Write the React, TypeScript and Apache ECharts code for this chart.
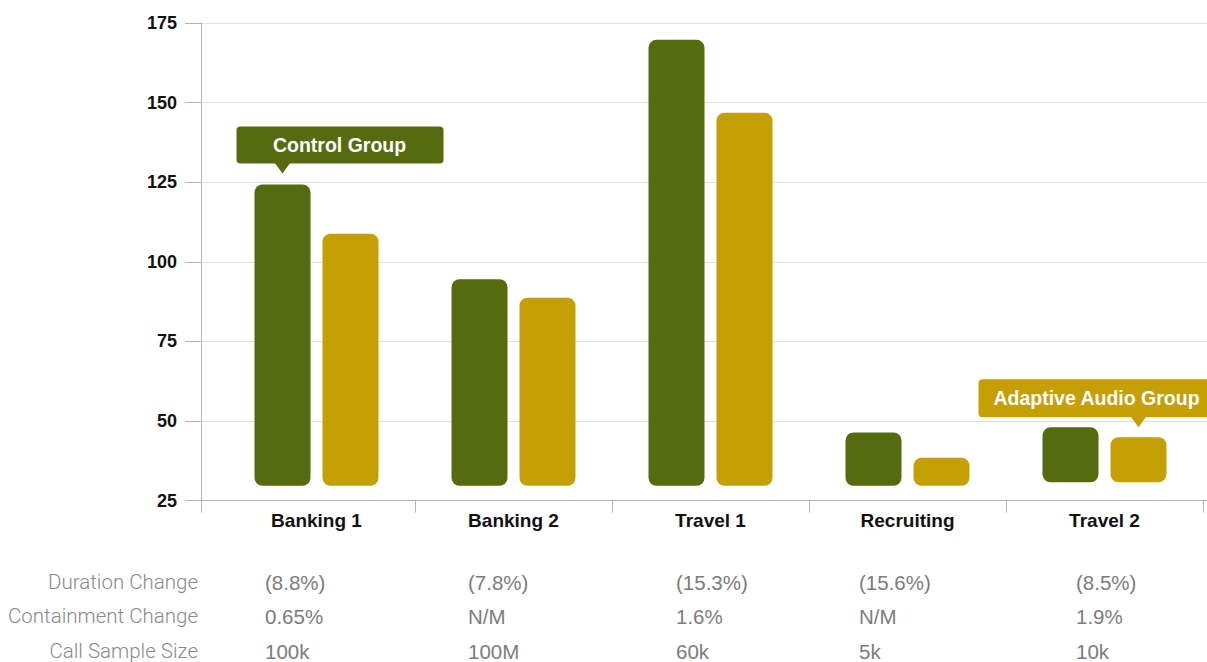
import { useEffect, useRef } from "react";
import * as echarts from "echarts";

// ---- data ----
const categories = ["Banking 1", "Banking 2", "Travel 1", "Recruiting", "Travel 2"];
const seriesNames = ["Control Group", "Adaptive Audio Group"];
const controlTop = [124.3, 94.5, 169.7, 46.4, 48.0];
const adaptiveTop = [108.8, 88.7, 146.8, 38.4, 44.9];
const barBase = [29.6, 29.6, 29.6, 29.6, 30.7];
const yMin = 25;
const yMax = 175;
const yStep = 25;
const rowLabels = ["Duration Change", "Containment Change", "Call Sample Size"];
const durationChange = ["(8.8%)", "(7.8%)", "(15.3%)", "(15.6%)", "(8.5%)"];
const containmentChange = ["0.65%", "N/M", "1.6%", "N/M", "1.9%"];
const callSampleSize = ["100k", "100M", "60k", "5k", "10k"];

// ---- layout / style ----
const GREEN = "#566b10";
const GOLD = "#c4a005";
const AXIS = "#b4b4b4";
const GRID = "#e0e0e0";
const tableColX = [265, 468, 676, 859, 1076];
const tableRowY = [582, 616, 651];
const rowLabelRight = 198;

export default function App() {
  const ref = useRef<HTMLDivElement>(null);

  useEffect(() => {
    if (!ref.current) return;
    const chart = echarts.init(ref.current, undefined, { renderer: "svg" });
    const gridBox = { top: 23, bottom: 161.5 };
    const barCommon = {
      type: "bar",
      xAxisIndex: 1,
      yAxisIndex: 1,
      barWidth: 56,
      barGap: "21.4%",
    };
    chart.setOption({
      animation: false,
      grid: [
        { left: 201, right: 0, ...gridBox },
        { left: 218, width: 985, ...gridBox },
      ],
      xAxis: [
        {
          type: "value",
          gridIndex: 0,
          min: 0,
          max: 1,
          interval: 1,
          axisLine: { show: true, lineStyle: { color: AXIS, width: 1 } },
          axisTick: { show: true, length: 12, lineStyle: { color: AXIS } },
          axisLabel: { show: false },
          splitLine: { show: false },
        },
        {
          type: "category",
          gridIndex: 1,
          data: categories,
          axisLine: { show: false },
          axisTick: {
            show: true,
            length: 12,
            interval: (i: number) => i !== 0,
            lineStyle: { color: AXIS },
          },
          axisLabel: {
            fontSize: 19,
            fontWeight: "bold",
            color: "#111",
            margin: 10,
            fontFamily: "Liberation Sans, Arial, sans-serif",
          },
        },
      ],
      yAxis: [
        {
          type: "value",
          gridIndex: 0,
          min: yMin,
          max: yMax,
          interval: yStep,
          axisLine: { show: true, lineStyle: { color: AXIS } },
          axisTick: { show: true, length: 16, lineStyle: { color: AXIS } },
          axisLabel: {
            fontSize: 18,
            fontWeight: "bold",
            color: "#111",
            margin: 24,
            fontFamily: "Liberation Sans, Arial, sans-serif",
          },
          splitLine: { show: true, lineStyle: { color: GRID } },
        },
        {
          type: "value",
          gridIndex: 1,
          min: yMin,
          max: yMax,
          interval: yStep,
          show: false,
          splitLine: { show: false },
        },
      ],
      series: [
        { ...barCommon, stack: "c", data: barBase, itemStyle: { color: "transparent" }, silent: true },
        { ...barCommon, stack: "a", data: barBase, itemStyle: { color: "transparent" }, silent: true },
        {
          ...barCommon,
          name: seriesNames[0],
          stack: "c",
          data: controlTop.map((v, i) => +(v - barBase[i]).toFixed(2)),
          itemStyle: { color: GREEN, borderRadius: 8 },
        },
        {
          ...barCommon,
          name: seriesNames[1],
          stack: "a",
          data: adaptiveTop.map((v, i) => +(v - barBase[i]).toFixed(2)),
          itemStyle: { color: GOLD, borderRadius: 8 },
        },
      ],
    });

    // callouts anchored on bars (positions read from the library's layout)
    const model = (chart as any).getModel();
    const barBox = (seriesIndex: number, idx: number) => {
      const l = model.getSeriesByIndex(seriesIndex).getData().getItemLayout(idx);
      const top = Math.min(l.y, l.y + l.height);
      return { cx: l.x + l.width / 2, top };
    };
    const callout = (
      text: string,
      color: string,
      anchor: { cx: number; top: number },
      tipGap: number,
      leftFromCx: number,
      width: number,
      height: number,
      textCx: number
    ) => {
      const tip = anchor.top - tipGap;
      const boxBottom = tip - 10;
      const boxTop = boxBottom - height;
      const left = anchor.cx - leftFromCx;
      return [
        { type: "rect", shape: { x: left, y: boxTop, width, height, r: 4 }, style: { fill: color } },
        {
          type: "polygon",
          shape: { points: [[anchor.cx - 8, boxBottom - 1], [anchor.cx + 8, boxBottom - 1], [anchor.cx, tip]] },
          style: { fill: color },
        },
        {
          type: "text",
          x: left + textCx,
          y: boxTop + height / 2,
          style: {
            text,
            fill: "#fff",
            font: 'bold 19.5px "Liberation Sans", Arial, sans-serif',
            textAlign: "center",
            textVerticalAlign: "middle",
            align: "center",
            verticalAlign: "middle",
          },
        },
      ];
    };

    const tableRows = [durationChange, containmentChange, callSampleSize];
    const tableTexts: any[] = [];
    rowLabels.forEach((label, r) => {
      tableTexts.push({
        type: "text",
        x: rowLabelRight,
        y: tableRowY[r],
        style: {
          text: label,
          fill: "#8a8a8a",
          font: '300 20.5px Roboto, "Noto Sans", sans-serif',
          textAlign: "right",
          textVerticalAlign: "middle",
          align: "right",
          verticalAlign: "middle",
        },
      });
      tableRows[r].forEach((val, c) => {
        tableTexts.push({
          type: "text",
          x: tableColX[c],
          y: tableRowY[r],
          style: {
            text: val,
            fill: "#7c7c7c",
            font: '20.5px "Liberation Sans", Arial, sans-serif',
            textAlign: "left",
            textVerticalAlign: "middle",
            align: "left",
            verticalAlign: "middle",
          },
        });
      });
    });

    chart.setOption({
      graphic: [
        ...callout(seriesNames[0], GREEN, barBox(2, 0), 11, 46, 207, 37, 103),
        ...callout(seriesNames[1], GOLD, barBox(3, 4), 10, 160, 237, 38, 118),
        ...tableTexts,
      ],
    });

    return () => chart.dispose();
  }, []);

  return (
    <div
      ref={ref}
      style={{ position: "absolute", left: 0, top: 0, width: 1207, height: 662 }}
    />
  );
}
